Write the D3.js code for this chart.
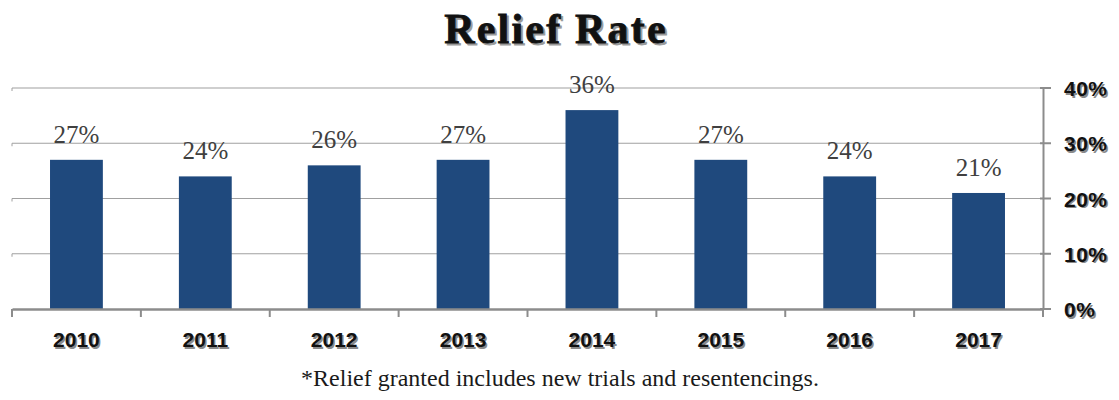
<!DOCTYPE html>
<html>
<head>
<meta charset="utf-8">
<script src="https://cdn.jsdelivr.net/npm/d3@7"></script>
<style>
  html, body { margin: 0; padding: 0; background: #fff; }
  svg { display: block; }
</style>
</head>
<body>
<svg id="chart" width="1119" height="400"></svg>
<script>
// Yearly relief rate (percent)
const years = ["2010", "2011", "2012", "2013", "2014", "2015", "2016", "2017"];
const reliefRate = [27, 24, 26, 27, 36, 27, 24, 21];
const rateTicks = [0, 10, 20, 30, 40];

const svg = d3.select("#chart");
const W = 1119, H = 400;
const plot = { left: 12, right: 1043, top: 88, bottom: 309 };

const x = d3.scaleBand()
  .domain(years)
  .range([plot.left, plot.right])
  .paddingInner(0.59)
  .paddingOuter(0.295);

const y = d3.scaleLinear()
  .domain([0, 40])
  .range([plot.bottom, plot.top]);

const serifFont = "Liberation Serif, Times New Roman, DejaVu Serif, serif";
const sansFont = "Liberation Sans, Arial, sans-serif";

// Title with a soft drop shadow
[["#9a9a9a", 2, 2], ["#111", 0, 0]].forEach(([c, dx, dy]) => {
  svg.append("text")
    .attr("x", 556 + dx).attr("y", 43 + dy)
    .attr("text-anchor", "middle")
    .attr("font-family", serifFont)
    .attr("font-weight", "bold")
    .attr("font-size", 42)
    .attr("letter-spacing", 2.2)
    .attr("fill", c)
    .attr("stroke", c)
    .attr("stroke-width", 0.8)
    .text("Relief Rate");
});

// Horizontal gridlines
svg.append("g")
  .selectAll("line")
  .data(rateTicks.filter(d => d > 0))
  .join("line")
  .attr("x1", plot.left).attr("x2", plot.right)
  .attr("y1", d => y(d)).attr("y2", d => y(d))
  .attr("stroke", "#a0a0a0")
  .attr("stroke-width", 1.2);

// Small ticks at the left end of the gridlines
svg.append("g")
  .selectAll("line")
  .data(rateTicks.filter(d => d > 0))
  .join("line")
  .attr("x1", plot.left).attr("x2", plot.left)
  .attr("y1", d => y(d)).attr("y2", d => y(d) + 3)
  .attr("stroke", "#a0a0a0");

// Bars
svg.append("g")
  .selectAll("rect")
  .data(years)
  .join("rect")
  .attr("x", d => x(d))
  .attr("width", x.bandwidth())
  .attr("y", (d, i) => y(reliefRate[i]))
  .attr("height", (d, i) => y(0) - y(reliefRate[i]))
  .attr("fill", "#1f497d");

// Value labels
svg.append("g")
  .selectAll("text")
  .data(years)
  .join("text")
  .attr("x", d => x(d) + x.bandwidth() / 2)
  .attr("y", (d, i) => y(reliefRate[i]) - 17)
  .attr("text-anchor", "middle")
  .attr("font-family", serifFont)
  .attr("font-size", 25)
  .attr("fill", "#404040")
  .text((d, i) => reliefRate[i] + "%");

// Bottom category axis
const xAxis = svg.append("g")
  .attr("transform", `translate(0,${plot.bottom})`)
  .call(d3.axisBottom(x).tickSize(0).tickFormat(""));
xAxis.select(".domain").attr("stroke", "#8c8c8c").attr("stroke-width", 2.5);

// Category dividers below the baseline
const edges = years.map(d => x(d) - x.step() * x.paddingInner() / 2).concat([plot.right]);
svg.append("g")
  .selectAll("line")
  .data(edges)
  .join("line")
  .attr("x1", d => d).attr("x2", d => d)
  .attr("y1", plot.bottom).attr("y2", plot.bottom + 8)
  .attr("stroke", "#8c8c8c")
  .attr("stroke-width", 2);

// Year labels with drop shadow
[["#8a8a8a", 1.5, 1.5], ["#111", 0, 0]].forEach(([c, dx, dy]) => {
  svg.append("g")
    .selectAll("text")
    .data(years)
    .join("text")
    .attr("x", d => x(d) + x.bandwidth() / 2 + dx)
    .attr("y", 347 + dy)
    .attr("text-anchor", "middle")
    .attr("font-family", sansFont)
    .attr("font-weight", "bold")
    .attr("font-size", 21)
    .attr("fill", c)
    .text(d => d);
});

// Right value axis
const yAxis = svg.append("g")
  .attr("transform", `translate(${plot.right},0)`)
  .call(d3.axisRight(y).tickValues(rateTicks).tickSize(0).tickFormat(""));
yAxis.select(".domain").attr("stroke", "#8c8c8c").attr("stroke-width", 2);

svg.append("g")
  .selectAll("line")
  .data(rateTicks)
  .join("line")
  .attr("x1", plot.right - 3).attr("x2", plot.right + 8)
  .attr("y1", d => y(d)).attr("y2", d => y(d))
  .attr("stroke", "#8c8c8c")
  .attr("stroke-width", 2);

[["#8a8a8a", 1.5, 1.5], ["#111", 0, 0]].forEach(([c, dx, dy]) => {
  svg.append("g")
    .selectAll("text")
    .data(rateTicks)
    .join("text")
    .attr("x", 1064 + dx)
    .attr("y", d => y(d) + 8 + dy)
    .attr("font-family", sansFont)
    .attr("font-weight", "bold")
    .attr("font-size", 21)
    .attr("letter-spacing", 0.5)
    .attr("fill", c)
    .text(d => d + "%");
});

// Footnote
svg.append("text")
  .attr("x", 560)
  .attr("y", 386)
  .attr("text-anchor", "middle")
  .attr("font-family", serifFont)
  .attr("font-size", 24)
  .attr("fill", "#1a1a1a")
  .text("*Relief granted includes new trials and resentencings.");
</script>
</body>
</html>
